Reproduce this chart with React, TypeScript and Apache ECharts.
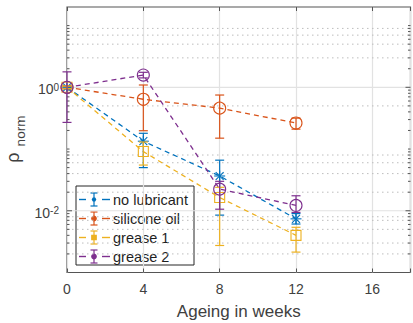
import React, { useEffect, useRef } from 'react';
import * as echarts from 'echarts';

// ---- data ----
const weeks = [0, 4, 8, 12];
const seriesNames = ['no lubricant', 'silicone oil', 'grease 1', 'grease 2'];
const seriesColors = ['#0072BD', '#D95319', '#EDB120', '#7E2F8E'];
const seriesMarkers = ['asterisk', 'circle', 'square', 'circle'];

const noLubricant = [1, 0.134, 0.0366, 0.0074];
const noLubricantLow = [0.95, 0.05, 0.0085, 0.0061];
const noLubricantHigh = [1.05, 0.18, 0.066, 0.009];

const siliconeOil = [1, 0.64, 0.46, 0.264];
const siliconeOilLow = [0.95, 0.198, 0.15, 0.21];
const siliconeOilHigh = [1.05, 1.09, 0.75, 0.317];

const grease1 = [1, 0.091, 0.0164, 0.004];
const grease1Low = [0.95, 0.055, 0.00274, 0.00214];
const grease1High = [1.05, 0.13, 0.024, 0.0054];

const grease2 = [1, 1.58, 0.0224, 0.0122];
const grease2Low = [0.27, 1.42, 0.0106, 0.0094];
const grease2High = [1.78, 1.75, 0.03, 0.0175];

// ---- axes ----
const xMin = 0;
const xMax = 18;
const xTicks = [0, 4, 8, 12, 16];
const yMin = 0.001;
const yMax = 20;
const yTickLabels = [
  { value: 1, exp: '0' },
  { value: 0.01, exp: '-2' },
];
const yMajorTicks = [0.01, 1];
const yMinorTicks = [
  0.002, 0.003, 0.004, 0.005, 0.006, 0.007, 0.008, 0.009,
  0.02, 0.03, 0.04, 0.05, 0.06, 0.07, 0.08, 0.09,
  0.1, 0.2, 0.3, 0.4, 0.5, 0.6, 0.7, 0.8, 0.9,
  2, 3, 4, 5, 6, 7, 8, 9, 10,
];
const yMinorGrid = [0.002, 0.003, 0.005, 0.007, 0.008, 0.02, 0.04, 0.06, 0.08, 0.5, 3, 5, 7, 9];

const groups = [
  { y: noLubricant, lo: noLubricantLow, hi: noLubricantHigh },
  { y: siliconeOil, lo: siliconeOilLow, hi: siliconeOilHigh },
  { y: grease1, lo: grease1Low, hi: grease1High },
  { y: grease2, lo: grease2Low, hi: grease2High },
];

const FONT = 'Liberation Sans, Arial, Helvetica, sans-serif';
const AXIS_COLOR = '#555555';
const TEXT_COLOR = '#404040';

function markerShapes(kind: string, cx: number, cy: number, s: number, color: string, lw: number, fill: string) {
  const st = { stroke: color, lineWidth: lw, fill };
  if (kind === 'circle') {
    return [{ type: 'circle', shape: { cx, cy, r: s }, style: st }];
  }
  if (kind === 'square') {
    return [{ type: 'rect', shape: { x: cx - s, y: cy - s, width: 2 * s, height: 2 * s }, style: st }];
  }
  const d = s * 0.72;
  const ls = { stroke: color, lineWidth: lw };
  return [
    { type: 'line', shape: { x1: cx, y1: cy - s, x2: cx, y2: cy + s }, style: ls },
    { type: 'line', shape: { x1: cx - s, y1: cy, x2: cx + s, y2: cy }, style: ls },
    { type: 'line', shape: { x1: cx - d, y1: cy - d, x2: cx + d, y2: cy + d }, style: ls },
    { type: 'line', shape: { x1: cx - d, y1: cy + d, x2: cx + d, y2: cy - d }, style: ls },
  ];
}

function errorRender(color: string, kind: string) {
  return (_params: any, api: any) => {
    const x = api.value(0);
    const y = api.value(1);
    const lo = api.value(2);
    const hi = api.value(3);
    const p = api.coord([x, y]);
    const pt = api.coord([x, hi]);
    const pb = api.coord([x, lo]);
    const cap = 4.5;
    const ls = { stroke: color, lineWidth: 1.2 };
    const size = kind === 'square' ? 5 : kind === 'circle' ? 6 : 5.5;
    return {
      type: 'group',
      children: [
        { type: 'line', shape: { x1: pt[0], y1: pt[1], x2: pb[0], y2: pb[1] }, style: ls },
        { type: 'line', shape: { x1: pt[0] - cap, y1: pt[1], x2: pt[0] + cap, y2: pt[1] }, style: ls },
        { type: 'line', shape: { x1: pb[0] - cap, y1: pb[1], x2: pb[0] + cap, y2: pb[1] }, style: ls },
        ...markerShapes(kind, p[0], p[1], size, color, 1.1, 'none'),
      ],
    };
  };
}

function hGridRender(stroke: string, dash: number[] | null, width: number) {
  return (_params: any, api: any) => {
    const v = api.value(1);
    const a = api.coord([xMin, v]);
    const b = api.coord([xMax, v]);
    const style: any = { stroke, lineWidth: width };
    if (dash) style.lineDash = dash;
    return { type: 'line', shape: { x1: a[0], y1: a[1], x2: b[0], y2: b[1] }, style };
  };
}

function yTickRender(len: number) {
  return (_params: any, api: any) => {
    const v = api.value(1);
    const a = api.coord([xMin, v]);
    const b = api.coord([xMax, v]);
    const ls = { stroke: AXIS_COLOR, lineWidth: 1 };
    return {
      type: 'group',
      children: [
        { type: 'line', shape: { x1: a[0], y1: a[1], x2: a[0] + len, y2: a[1] }, style: ls },
        { type: 'line', shape: { x1: b[0], y1: b[1], x2: b[0] - len, y2: b[1] }, style: ls },
      ],
    };
  };
}

function buildLegend() {
  const left = 76;
  const top = 186;
  const w = 118;
  const h = 79;
  const y0 = 199.5;
  const step = 19;
  const children: any[] = [
    { type: 'rect', shape: { x: left, y: top, width: w, height: h }, style: { fill: '#fff', stroke: '#262626', lineWidth: 1 } },
  ];
  seriesNames.forEach((name, i) => {
    const cy = y0 + i * step;
    const color = seriesColors[i];
    const ls = { stroke: color, lineWidth: 1.4 };
    const cx = 94;
    children.push(
      { type: 'line', shape: { x1: 79, y1: cy, x2: 86, y2: cy }, style: ls },
      { type: 'line', shape: { x1: 102, y1: cy, x2: 110, y2: cy }, style: ls },
      { type: 'line', shape: { x1: cx, y1: cy - 6.5, x2: cx, y2: cy + 6.5 }, style: { stroke: color, lineWidth: 1.2 } },
      { type: 'line', shape: { x1: cx - 3.5, y1: cy - 6.5, x2: cx + 3.5, y2: cy - 6.5 }, style: { stroke: color, lineWidth: 1.2 } },
      { type: 'line', shape: { x1: cx - 3.5, y1: cy + 6.5, x2: cx + 3.5, y2: cy + 6.5 }, style: { stroke: color, lineWidth: 1.2 } },
      ...markerShapes(seriesMarkers[i], cx, cy, 2.2, color, 1.3, color),
      {
        type: 'text',
        x: 113,
        y: cy,
        style: { text: name, fontSize: 14.5, fontFamily: FONT, fill: '#1f1f1f', align: 'left', verticalAlign: 'middle' },
      }
    );
  });
  return { type: 'group', z: 100, children };
}

function buildYLabel() {
  return {
    type: 'group',
    x: 16,
    y: 140,
    rotation: Math.PI / 2,
    z: 100,
    children: [
      {
        type: 'text',
        x: -17.5,
        y: -3,
        style: { text: 'ρ', fontSize: 18, fontFamily: FONT, fill: TEXT_COLOR, align: 'center', verticalAlign: 'middle' },
      },
      {
        type: 'text',
        x: 9,
        y: 4,
        style: { text: 'norm', fontSize: 13.5, fontFamily: FONT, fill: TEXT_COLOR, align: 'center', verticalAlign: 'middle' },
      },
    ],
  };
}

function buildOption() {
  const series: any[] = [];
  series.push({
    type: 'custom',
    silent: true,
    z: 1,
    data: yMinorGrid.map((v) => [xMin, v]),
    encode: { x: 0, y: 1 },
    renderItem: hGridRender('#bdbdbd', [1.5, 3.5], 1),
  });
  series.push({
    type: 'custom',
    silent: true,
    z: 1,
    data: yMajorTicks.map((v) => [xMin, v]),
    encode: { x: 0, y: 1 },
    renderItem: hGridRender('#e2e2e2', null, 1.2),
  });
  series.push({
    type: 'custom',
    silent: true,
    z: 2,
    data: yMinorTicks.map((v) => [xMin, v]),
    encode: { x: 0, y: 1 },
    renderItem: yTickRender(2.5),
  });
  series.push({
    type: 'custom',
    silent: true,
    z: 2,
    data: yMajorTicks.map((v) => [xMin, v]),
    encode: { x: 0, y: 1 },
    renderItem: yTickRender(5),
  });
  groups.forEach((g, i) => {
    series.push({
      type: 'line',
      name: seriesNames[i],
      data: weeks.map((w, j) => [w, g.y[j]]),
      symbol: 'none',
      silent: true,
      z: 3,
      lineStyle: { color: seriesColors[i], width: 1.3, type: [5, 4] },
    });
  });
  groups.forEach((g, i) => {
    series.push({
      type: 'custom',
      name: seriesNames[i],
      silent: true,
      z: 4,
      data: weeks.map((w, j) => [w, g.y[j], g.lo[j], g.hi[j]]),
      encode: { x: 0, y: 1 },
      renderItem: errorRender(seriesColors[i], seriesMarkers[i]),
    });
  });

  return {
    animation: false,
    backgroundColor: '#ffffff',
    grid: {
      left: 67,
      top: 7,
      right: 2.5,
      bottom: 50.5,
      outerBoundsMode: 'none',
      show: true,
      borderColor: AXIS_COLOR,
      borderWidth: 1.2,
      backgroundColor: '#ffffff',
    },
    xAxis: [
      {
        type: 'value',
        min: xMin,
        max: xMax,
        interval: 4,
        axisLine: { show: false },
        axisTick: { show: true, inside: true, length: 4, lineStyle: { color: AXIS_COLOR } },
        splitLine: { show: true, lineStyle: { color: '#e2e2e2', width: 1.2 } },
        axisLabel: {
          margin: 9,
          fontSize: 14,
          fontFamily: FONT,
          color: TEXT_COLOR,
          formatter: (v: number) => (xTicks.includes(v) ? String(v) : ''),
        },
        name: 'Ageing in weeks',
        nameLocation: 'middle',
        nameGap: 30,
        nameTextStyle: { fontSize: 17, fontFamily: FONT, color: TEXT_COLOR, verticalAlign: 'top' },
      },
      {
        type: 'value',
        position: 'top',
        min: xMin,
        max: xMax,
        interval: 4,
        axisLine: { show: false },
        axisTick: { show: true, inside: true, length: 4, lineStyle: { color: AXIS_COLOR } },
        splitLine: { show: false },
        axisLabel: { show: false },
      },
    ],
    yAxis: {
      type: 'log',
      logBase: 10,
      min: yMin,
      max: yMax,
      axisLine: { show: false },
      axisTick: { show: false },
      splitLine: { show: false },
      axisLabel: {
        margin: 8,
        color: TEXT_COLOR,
        fontFamily: FONT,
        padding: [4, 0, 0, 0],
        formatter: (v: number) => {
          const t = yTickLabels.find((l) => Math.abs(v - l.value) / l.value < 1e-6);
          return t ? `{b|10}{s|${t.exp}}` : '';
        },
        rich: {
          b: { fontSize: 14, lineHeight: 14, verticalAlign: 'bottom', fontFamily: FONT, color: TEXT_COLOR },
          s: { fontSize: 10, lineHeight: 10, verticalAlign: 'top', padding: [0, 0, 10, 0], fontFamily: FONT, color: TEXT_COLOR },
        },
      },
    },
    graphic: [buildYLabel(), buildLegend()],
    series,
  };
}

export default function App() {
  const ref = useRef<HTMLDivElement>(null);
  useEffect(() => {
    document.body.style.margin = '0';
    const chart = echarts.init(ref.current!, null, { renderer: 'svg' });
    chart.setOption(buildOption() as any);
    return () => chart.dispose();
  }, []);
  return <div ref={ref} style={{ width: 413, height: 323, position: 'absolute', left: 0, top: 0 }} />;
}
